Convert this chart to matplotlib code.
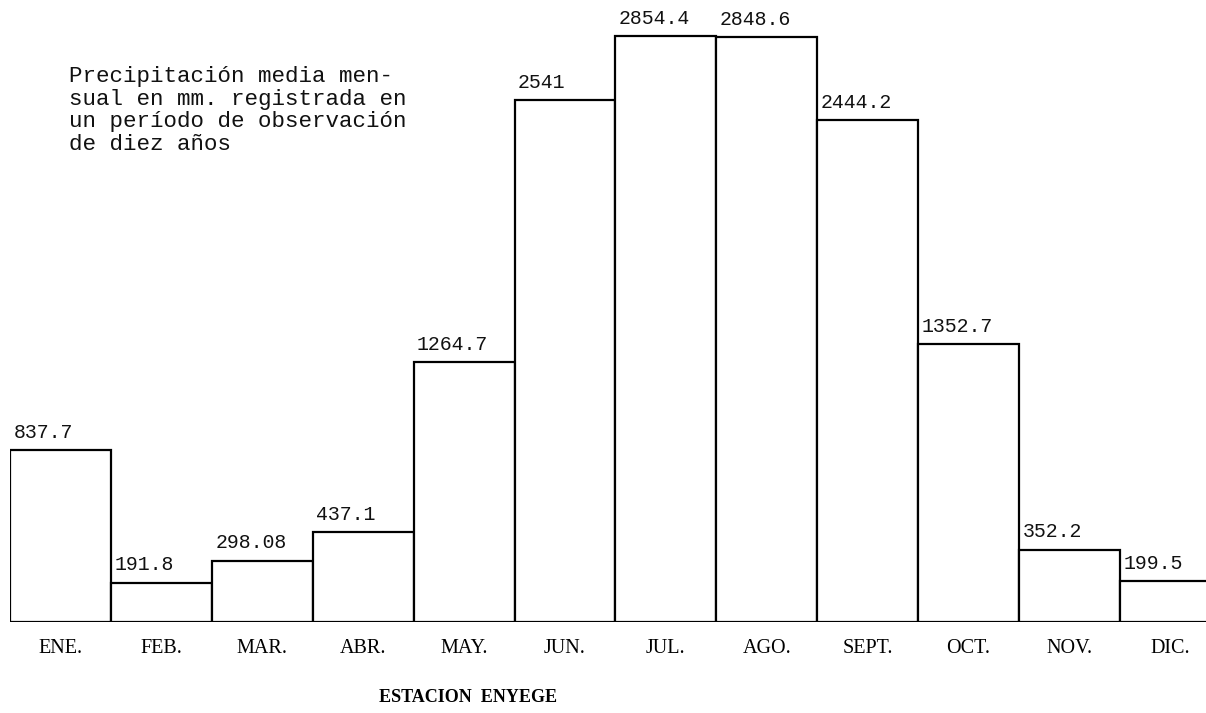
import matplotlib
matplotlib.use("Agg")
import matplotlib.pyplot as plt

# Monthly mean precipitation (mm), ten-year record, Enyege station
months = ["ENE.", "FEB.", "MAR.", "ABR.", "MAY.", "JUN.",
          "JUL.", "AGO.", "SEPT.", "OCT.", "NOV.", "DIC."]
values = [837.7, 191.8, 298.08, 437.1, 1264.7, 2541,
          2854.4, 2848.6, 2444.2, 1352.7, 352.2, 199.5]
value_labels = ["837.7", "191.8", "298.08", "437.1", "1264.7", "2541",
                "2854.4", "2848.6", "2444.2", "1352.7", "352.2", "199.5"]

note = ("Precipitación media men-\n"
        "sual en mm. registrada en\n"
        "un período de observación\n"
        "de diez años")
station = "ESTACION  ENYEGE"

W, H = 1206, 713
fig = plt.figure(figsize=(W / 100, H / 100), dpi=100)

# axes placed so that bars start at the left edge and run off the right side
left_px, base_px, top_val_px = 10, 622, 36
bar_px = 100.9
ax = fig.add_axes([left_px / W, (H - base_px) / H, (W - left_px) / W, base_px / H])
ax.set_xlim(-0.5, -0.5 + (W - left_px) / bar_px)
ax.set_ylim(0, base_px * max(values) / (base_px - top_val_px))

x = list(range(len(months)))
ax.bar(x, values, width=1.0, color="white", edgecolor="black", linewidth=1.6)

for i, (v, lab) in enumerate(zip(values, value_labels)):
    ax.annotate(lab, (i - 0.5, v), xytext=(2.5, 6), textcoords="offset points",
                ha="left", va="bottom", fontsize=14.3,
                family="Liberation Mono", color="#111111")

ax.set_xticks(x)
ax.set_xticklabels(months, family="Liberation Serif", fontsize=14.5)
ax.tick_params(axis="x", length=0, pad=12)
ax.set_yticks([])
for s in ax.spines.values():
    s.set_visible(False)

fig.text(69 / W, 1 - 66 / H, note, ha="left", va="top", fontsize=16.2,
         family="Liberation Mono", linespacing=1.1, color="#111111")
fig.text(468 / W, 1 - 698 / H, station, ha="center", va="center",
         fontsize=13, family="Liberation Serif", fontweight="bold")

fig.savefig("out.png", dpi=100, facecolor="white")
